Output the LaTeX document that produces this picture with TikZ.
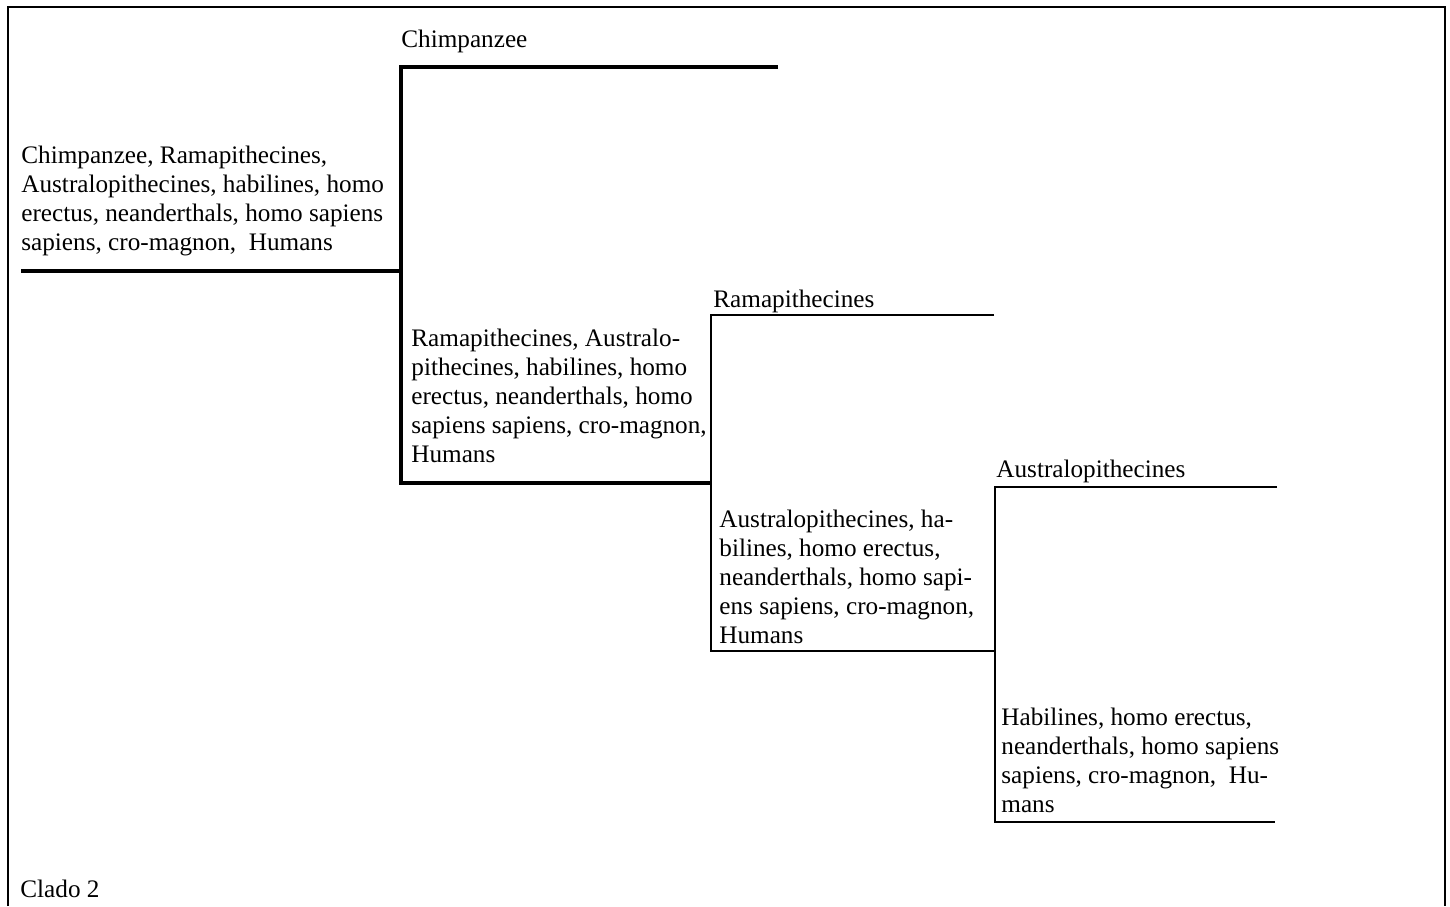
\documentclass[tikz,border=0pt]{standalone}
\usepackage{fontspec}
\setmainfont{Liberation Serif}
\usetikzlibrary{positioning}
\tikzset{x=0.5pt, y=-0.5pt,
    trunk/.style={line width=2pt},
    twig/.style={line width=1pt},
    taxon/.style={anchor=base west, inner sep=0pt, align=left,
        font=\fontsize{12.6}{14.4}\selectfont}}

\begin{document}
\begin{tikzpicture}
    \useasboundingbox (0,0) rectangle (1450,906);
    \draw[line width=1.2pt] (8,906) -- (8,7) -- (1445,7) -- (1445,906);
    % junctions
    \coordinate (root) at (21,271);
    \coordinate (n1) at (401,271);
    \coordinate (n1top) at (401,67);
    \coordinate (n1bot) at (401,483);
    \coordinate (chimp) at (778,67);
    \coordinate (n2top) at (711,315);
    \coordinate (n2) at (711,483);
    \coordinate (n2bot) at (711,651);
    \coordinate (rama) at (994,315);
    \coordinate (n3top) at (995,487);
    \coordinate (n3bot) at (995,822);
    \coordinate (n3) at (995,651);
    \coordinate (austr) at (1277,487);
    \coordinate (habil) at (1275,822);
    % branches
    \draw[trunk] (root) -- (n1);
    \draw[trunk] (chimp) -- (n1top) -- (n1bot) -- (n2);
    \draw[twig] (rama) -- (n2top) -- (n2bot) -- (n3);
    \draw[twig] (austr) -- (n3top) -- (n3bot) -- (habil);
    % labels (multi-line ones sit on their last baseline)
    \node[taxon] (tchimp) at (401,47) {Chimpanzee};
    \node[taxon] (troot) at (21,250) {Chimpanzee, Ramapithecines,\\Australopithecines, habilines, homo\\erectus, neanderthals, homo sapiens\\sapiens, cro-magnon,\ \ Humans};
    \node[taxon] (trama) at (713,307) {Ramapithecines};
    \node[taxon] (tn2) at (411,462) {Ramapithecines, Australo-\\pithecines, habilines, homo\\erectus, neanderthals, homo\\sapiens sapiens, cro-magnon,\\Humans};
    \node[taxon] (taustr) at (996,477) {Australopithecines};
    \node[taxon] (tn3) at (719,643) {Australopithecines, ha-\\bilines, homo erectus,\\neanderthals, homo sapi-\\ens sapiens, cro-magnon,\\Humans};
    \node[taxon] (thabil) at (1001,812) {Habilines, homo erectus,\\neanderthals, homo sapiens\\sapiens, cro-magnon,\ \ Hu-\\mans};
    \node[taxon] (clado) at (20,897) {Clado 2};
\end{tikzpicture}
\end{document}
